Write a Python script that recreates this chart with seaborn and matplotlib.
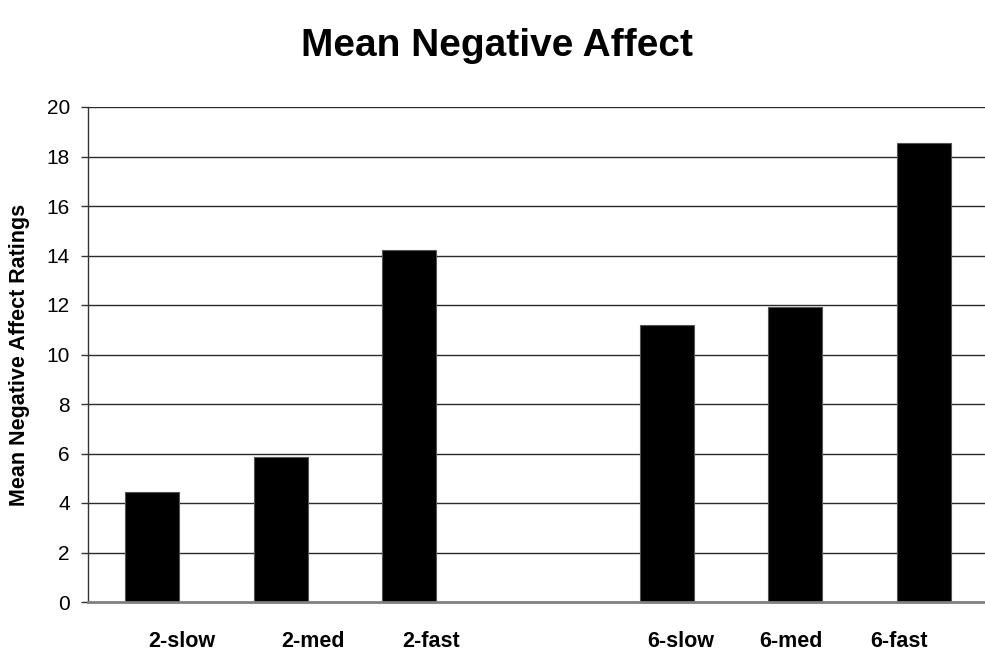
import matplotlib
matplotlib.use("Agg")
import matplotlib.pyplot as plt
import seaborn as sns
import pandas as pd

# Mean negative affect ratings per condition
conditions = ["2-slow", "2-med", "2-fast", "6-slow", "6-med", "6-fast"]
ratings = [4.43, 5.84, 14.23, 11.21, 11.93, 18.54]
# category order with an empty slot separating the two groups
slot_order = ["2-slow", "2-med", "2-fast", " ", "6-slow", "6-med", "6-fast"]
# x positions (in slot units) of the condition labels under the axis
label_pos = [0.23, 1.25, 2.17, 4.11, 4.97, 5.81]
y_ticks = [0, 2, 4, 6, 8, 10, 12, 14, 16, 18, 20]

sns.set_theme(style="white")
plt.rcParams["font.family"] = ["Liberation Sans", "DejaVu Sans"]
plt.rcParams.update({"text.color": "black", "axes.labelcolor": "black",
                     "xtick.color": "black", "ytick.color": "black"})

df = pd.DataFrame({"condition": conditions, "rating": ratings})

fig = plt.figure(figsize=(9.85, 6.55), dpi=100)
ax = fig.add_axes([88 / 985, 53 / 655, 900 / 985, 495 / 655])

ax.set_axisbelow(True)
for t in y_ticks[1:]:
    ax.axhline(t, color="#2b2b2b", linewidth=1.0, zorder=0)

sns.barplot(data=df, x="condition", y="rating", order=slot_order,
            color="black", width=0.42, edgecolor="#555555", linewidth=0.8,
            saturation=1, errorbar=None, ax=ax)

ax.set_ylim(0, 20)
ax.set_xlim(-0.5, 6.5)
ax.set_yticks(y_ticks)
ax.set_yticklabels([str(t) for t in y_ticks], fontsize=15)
ax.set_xticks(label_pos)
ax.set_xticklabels(conditions, fontsize=15.5, fontweight="bold")
ax.tick_params(axis="x", length=0, pad=21)
ax.tick_params(axis="y", length=5, width=1, color="#333333", pad=8,
               direction="out", left=True)

for side in ("top", "right"):
    ax.spines[side].set_visible(False)
ax.spines["left"].set_color("#333333")
ax.spines["left"].set_linewidth(1.0)
ax.spines["bottom"].set_color("#808080")
ax.spines["bottom"].set_linewidth(2.0)

ax.set_xlabel("")
ax.set_ylabel("Mean Negative Affect Ratings", fontsize=15.5, fontweight="bold")
ax.yaxis.set_label_coords(-0.064, 0.5)

fig.text(497 / 985, 1 - 46 / 655, "Mean Negative Affect", ha="center",
         va="center", fontsize=28, fontweight="bold")

fig.savefig("out.png", dpi=100, facecolor="white")
